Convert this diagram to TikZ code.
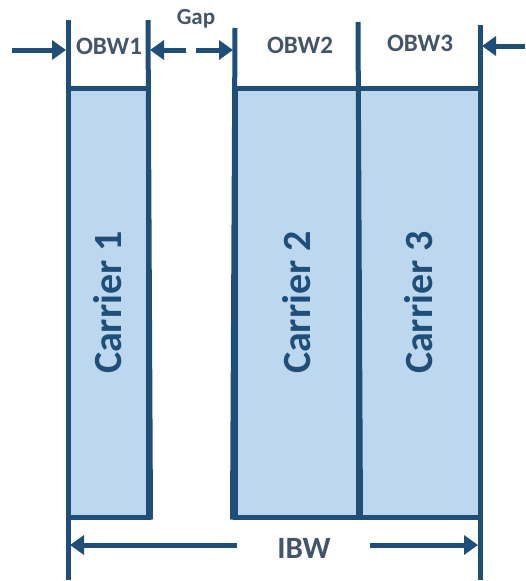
\documentclass[tikz,border=0pt]{standalone}
\usepackage{fontspec}
\setmainfont{Carlito}
\usetikzlibrary{arrows.meta}
\definecolor{ln}{HTML}{1F4E79}
\definecolor{bx}{HTML}{BDD7EE}
\definecolor{tx}{HTML}{44546A}
\begin{document}
\begin{tikzpicture}[x=1pt,y=-1pt]
\tikzstyle{cb} = [rectangle,draw=ln,fill=bx,line width=5pt,minimum height=429pt,inner sep=0pt] %carrier box
\tikzstyle{ct} = [rotate=90,text=ln,font=\fontsize{40}{40}\selectfont\bfseries] %carrier text
\tikzstyle{vl} = [draw=ln,line width=5pt] %vertical line
\tikzstyle{de} = [-{Triangle[length=14pt,width=19pt]},draw=ln,line width=5pt] %dimension arrow
\tikzstyle{lb} = [text=tx,font=\fontsize{25}{25}\selectfont\bfseries,inner sep=0pt] %label
\useasboundingbox (0,0) rectangle (525,581);
\node[cb,minimum width=80pt](c1)at(108,302.5){};
\node[cb,minimum width=123pt](c2)at(296.5,302.5){};
\node[cb,minimum width=122pt](c3)at(419,302.5){};
\node[ct]at(c1){Carrier 1};
\node[ct]at(c2){Carrier 2};
\node[ct]at(c3){Carrier 3};
\coordinate(t1)at(68,20);
\coordinate(b1)at(68,580);
\coordinate(t2)at(148,20);
\coordinate(t3)at(235,28);
\coordinate(t4)at(358,22);
\coordinate(t5)at(480,25);
\coordinate(b5)at(480,580);
\draw[vl](t1)--(b1);
\draw[vl](t2)--(c1.south east);
\draw[vl](t3)--(c2.south west);
\draw[vl](t4)--(c2.south east);
\draw[vl](t5)--(b5);
\coordinate(a1)at(12,50);
\coordinate(a1e)at(66,50);
\coordinate(a2)at(186,50);
\coordinate(a2e)at(150,50);
\coordinate(a3)at(196,50);
\coordinate(a3e)at(233,50);
\coordinate(a4)at(525,46);
\coordinate(a4e)at(482,46);
\coordinate(a5)at(237,545);
\coordinate(a5e)at(70,545);
\coordinate(a6)at(370,545);
\coordinate(a6e)at(478,545);
\draw[de](a1)--(a1e);
\draw[de](a2)--(a2e);
\draw[de](a3)--(a3e);
\draw[de](a4)--(a4e);
\draw[de](a5)--(a5e);
\draw[de](a6)--(a6e);
\node[lb](o1)at(109,46){OBW1};
\node[lb,font=\fontsize{23}{23}\selectfont\bfseries](g)at(196,19){Gap};
\node[lb](o2)at(300,45){OBW2};
\node[lb](o3)at(420,43){OBW3};
\node[lb,font=\fontsize{31}{31}\selectfont\bfseries](ibw)at(304,548){IBW};
\end{tikzpicture}
\end{document}
